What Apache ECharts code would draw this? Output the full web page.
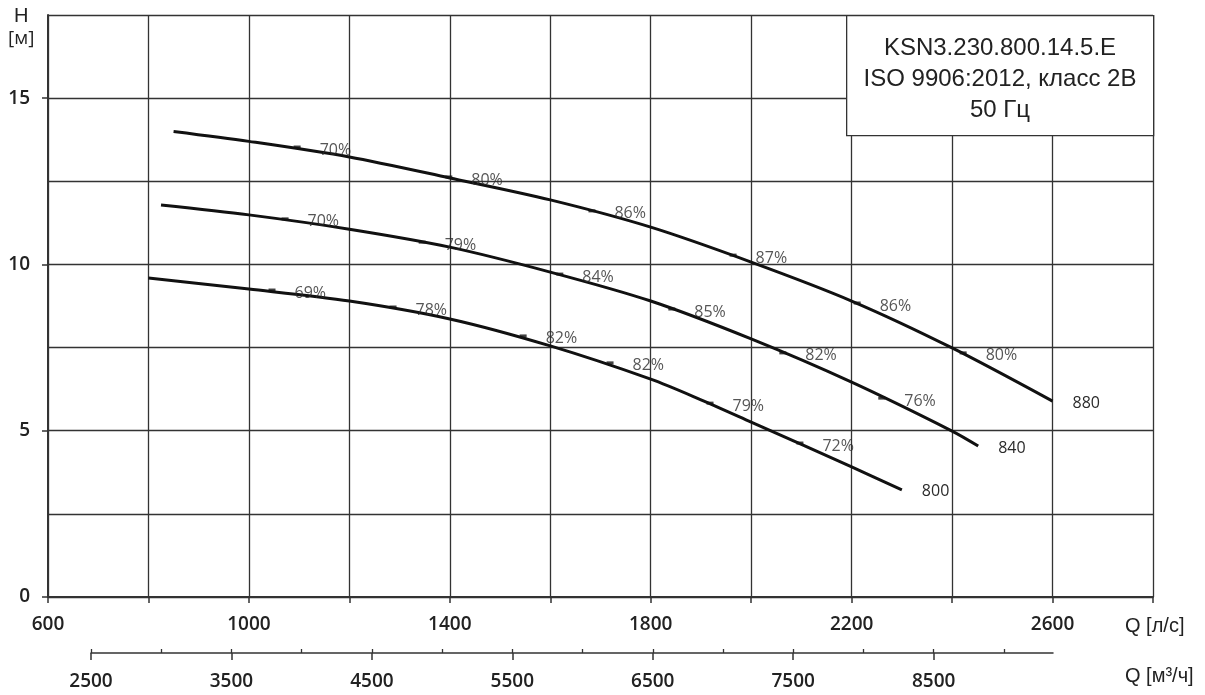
<!DOCTYPE html>
<html>
<head>
<meta charset="utf-8">
<script src="https://cdn.jsdelivr.net/npm/echarts@6/dist/echarts.min.js"></script>
<style>
  html, body { margin: 0; padding: 0; background: #fff; }
  #chart { width: 1205px; height: 695px; }
</style>
</head>
<body>
<div id="chart"></div>
<script>
// Q [л/с] vs H [м], three impeller diameters
const curveNames = ['880', '840', '800'];
const q880 = [850, 1000, 1200, 1400, 1600, 1800, 2000, 2200, 2400, 2600];
const h880 = [14.0, 13.7, 13.23, 12.6, 11.94, 11.12, 10.07, 8.9, 7.49, 5.89];
const q840 = [825, 1000, 1200, 1400, 1600, 1800, 2000, 2200, 2400, 2452];
const h840 = [11.79, 11.49, 11.06, 10.52, 9.77, 8.9, 7.76, 6.46, 4.99, 4.54];
const q800 = [800, 1000, 1200, 1400, 1600, 1800, 1900, 2000, 2200, 2300];
const h800 = [9.59, 9.26, 8.9, 8.36, 7.55, 6.55, 5.93, 5.26, 3.91, 3.22];

// efficiency marks along each curve
const eff880Q = [1096, 1398, 1683, 1964, 2211, 2422];
const eff880H = [13.53, 12.63, 11.61, 10.28, 8.84, 7.34];
const eff880Txt = ['70%', '80%', '86%', '87%', '86%', '80%'];
const eff840Q = [1072, 1345, 1619, 1842, 2063, 2260];
const eff840H = [11.37, 10.67, 9.71, 8.66, 7.34, 5.98];
const eff840Txt = ['70%', '79%', '84%', '85%', '82%', '76%'];
const eff800Q = [1046, 1287, 1546, 1719, 1918, 2097];
const eff800H = [9.23, 8.72, 7.85, 7.04, 5.83, 4.63];
const eff800Txt = ['69%', '78%', '82%', '82%', '79%', '72%'];

// axes
const yLabelTicks = [0, 5, 10, 15];
const m3Labels = [2500, 3500, 4500, 5500, 6500, 7500, 8500];
const m3Minor = [2500, 3000, 3500, 4000, 4500, 5000, 5500, 6000, 6500, 7000, 7500, 8000, 8500, 9000];
const infoLines = ['KSN3.230.800.14.5.E', 'ISO 9906:2012, класс 2B', '50 Гц'];

const tickFont = { fontFamily: 'Open Sans', fontWeight: 600, fontSize: 19, color: '#222' };
const pctFont = { fontFamily: 'Open Sans', fontWeight: 'normal', fontSize: 16, color: '#2a2a2a' };
const lineClr = '#333';

const curves = [[q880, h880], [q840, h840], [q800, h800]];
const effs = [[eff880Q, eff880H, eff880Txt], [eff840Q, eff840H, eff840Txt], [eff800Q, eff800H, eff800Txt]];

const series = [];
curves.forEach((c, i) => {
    series.push({
        type: 'line',
        name: curveNames[i],
        xAxisIndex: 0, yAxisIndex: 0,
        data: c[0].map((q, k) => [q, c[1][k]]),
        smooth: 0.3,
        showSymbol: false,
        lineStyle: { color: '#111', width: 3 },
        endLabel: { show: true, formatter: curveNames[i], distance: 20, offset: [0, 2], ...pctFont },
        z: 3
    });
});
effs.forEach(e => {
    series.push({
        type: 'scatter',
        xAxisIndex: 0, yAxisIndex: 0,
        data: e[0].map((q, k) => ({ value: [q, e[1][k]], txt: e[2][k] })),
        symbol: 'rect',
        symbolSize: [7, 3],
        itemStyle: { color: '#111' },
        label: {
            show: true, position: 'right', distance: 19, offset: [0, 3],
            formatter: p => p.data.txt, ...pctFont
        },
        z: 4
    });
});

const chart = echarts.init(document.getElementById('chart'));
chart.setOption({
    animation: false,
    backgroundColor: '#fff',
    grid: [
        { left: 48, right: 52, top: 15, bottom: 98 },
        { left: 91, right: 152, top: 652, bottom: 42 }
    ],
    xAxis: [
        {
            type: 'value', gridIndex: 0, min: 600, max: 2800, interval: 200,
            axisLine: { show: true, lineStyle: { color: lineClr, width: 2 } },
            axisTick: { show: true, length: 6, lineStyle: { color: lineClr, width: 1.5 } },
            axisLabel: {
                margin: 18, ...tickFont,
                formatter: v => ((v - 600) % 400 === 0 && v < 2800) ? String(v) : ''
            },
            splitLine: { show: true, lineStyle: { color: lineClr, width: 1.3 } }
        },
        {
            type: 'value', gridIndex: 1, position: 'bottom', min: 2500, max: 9350,
            axisLine: { show: true, lineStyle: { color: lineClr, width: 1.5 } },
            axisTick: { show: true, length: 7, customValues: m3Labels, lineStyle: { color: lineClr, width: 1.5 } },
            axisLabel: { margin: 19, customValues: m3Labels, formatter: v => String(v), ...tickFont },
            splitLine: { show: false }
        },
        {
            type: 'value', gridIndex: 1, position: 'bottom', min: 2500, max: 9350,
            axisLine: { show: false },
            axisTick: { show: true, inside: true, length: 4, customValues: m3Minor, lineStyle: { color: lineClr, width: 1.3 } },
            axisLabel: { show: false },
            splitLine: { show: false }
        }
    ],
    yAxis: [
        {
            type: 'value', gridIndex: 0, min: 0, max: 17.5, interval: 2.5,
            axisLine: { show: true, lineStyle: { color: lineClr, width: 2 } },
            axisTick: { show: false },
            axisLabel: { show: false },
            splitLine: { show: true, lineStyle: { color: lineClr, width: 1.3 } }
        },
        {
            type: 'value', gridIndex: 0, position: 'left', min: 0, max: 17.5,
            axisLine: { show: false },
            axisTick: { show: true, length: 6, customValues: yLabelTicks, lineStyle: { color: lineClr, width: 1.5 } },
            axisLabel: { margin: 18, customValues: yLabelTicks, formatter: v => String(v), ...tickFont },
            splitLine: { show: false }
        },
        { type: 'value', gridIndex: 1, min: 0, max: 1, show: false }
    ],
    graphic: [
        { type: 'text', left: 14, top: 6, style: { text: 'H', font: '20px "Liberation Sans"', fill: '#222' } },
        { type: 'text', left: 8, top: 29, style: { text: '[м]', font: '19px "Open Sans"', fill: '#222' } },
        { type: 'text', left: 1125, top: 616, style: { text: 'Q [л/с]', font: '20px "Liberation Sans"', fill: '#222' } },
        { type: 'text', left: 1125, top: 666, style: { text: 'Q [м³/ч]', font: '20px "Liberation Sans"', fill: '#222' } },
        {
            type: 'rect', left: 846, top: 15, z: 100,
            shape: { x: 0, y: 0, width: 307, height: 120 },
            style: { fill: '#fff', stroke: lineClr, lineWidth: 1.3 }
        },
        {
            type: 'text', x: 1000, y: 33, z: 101,
            style: {
                text: infoLines.join('\n'), font: '24px "Liberation Sans"', fill: '#222',
                align: 'center', lineHeight: 31
            }
        }
    ],
    series: series
});
</script>
</body>
</html>
